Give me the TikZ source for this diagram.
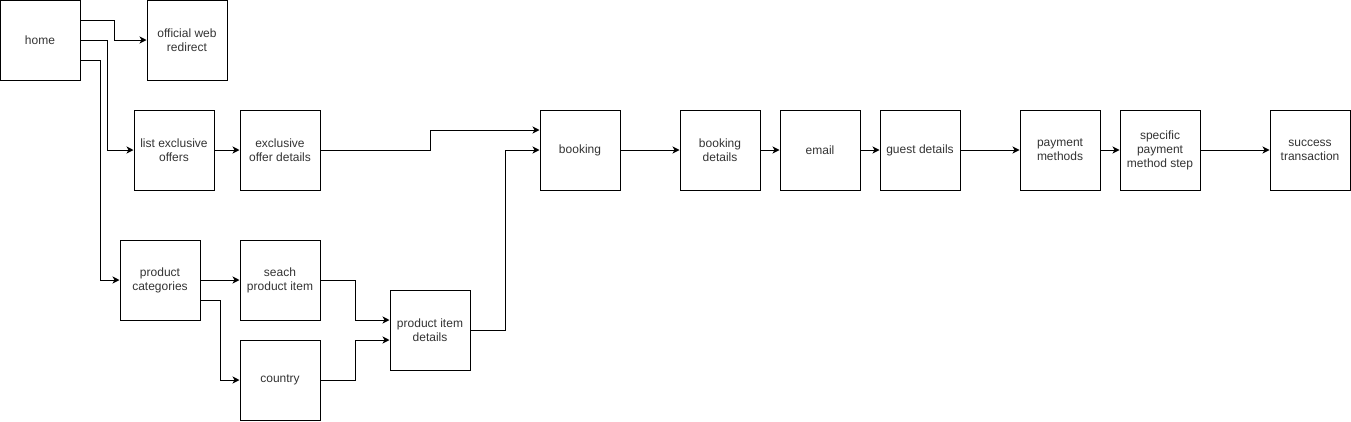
\documentclass[tikz,border=0pt]{standalone}
\usepackage{fontspec}
\setmainfont{Liberation Sans}
\usepackage{tikz}
\usetikzlibrary{calc,arrows.meta}

\begin{document}
\begin{tikzpicture}[x=1pt,y=-1pt,
    box/.style={draw, line width=1pt, minimum width=80pt, minimum height=80pt,
      inner sep=0pt, align=center, font=\fontsize{12}{14}\selectfont, text=black!80},
    link/.style={-{Stealth[length=7pt,width=7pt,inset=2pt]}, line width=1pt}]
    \useasboundingbox (0,0) rectangle (1351,421);

    % left part
    \node[box] (home) at (40,40) {home};
    \node[box] (web) at (187,40) {official web\\redirect};
    \node[box] (list) at (174,150) {list exclusive\\offers};
    \node[box] (offer) at (280,150) {exclusive\\offer details};
    \node[box] (cat) at (160,280) {product\\categories};
    \node[box] (search) at (280,280) {seach\\product item};
    \node[box] (country) at (280,380) {country};
    \node[box] (item) at (430,330) {product item\\details};

    % booking flow
    \node[box] (booking) at (580,150) {booking};
    \node[box] (bdetails) at (720,150) {booking\\details};
    \node[box] (email) at (820,150) {email};
    \node[box] (guest) at (920,150) {guest details};
    \node[box] (pay) at (1060,150) {payment\\methods};
    \node[box] (step) at (1160,150) {specific\\payment\\method step};
    \node[box] (success) at (1310,150) {success\\transaction};

    \draw[link] ([yshift=20pt]home.east) -- ++(34,0) |- (web.west);
    \draw[link] (home.east) -- ++(27,0) |- (list.west);
    \draw[link] ([yshift=-20pt]home.east) -- ++(20,0) |- (cat.west);
    \draw[link] (list) -- (offer);
    \draw[link] (offer.east) -- ++(110,0) |- ([yshift=20pt]booking.west);

    \draw[link] (cat) -- (search);
    \draw[link] ([yshift=-20pt]cat.east) -- ++(20,0) |- (country.west);
    \draw[link] (search.east) -- ++(35,0) |- ([yshift=10pt]item.west);
    \draw[link] (country.east) -- ++(35,0) |- ([yshift=-10pt]item.west);
    \draw[link] (item.east) -- ++(35,0) |- (booking.west);

    \draw[link] (booking) -- (bdetails);
    \draw[link] (bdetails) -- (email);
    \draw[link] (email) -- (guest);
    \draw[link] (guest) -- (pay);
    \draw[link] (pay) -- (step);
    \draw[link] (step) -- (success);
  \end{tikzpicture}
\end{document}
